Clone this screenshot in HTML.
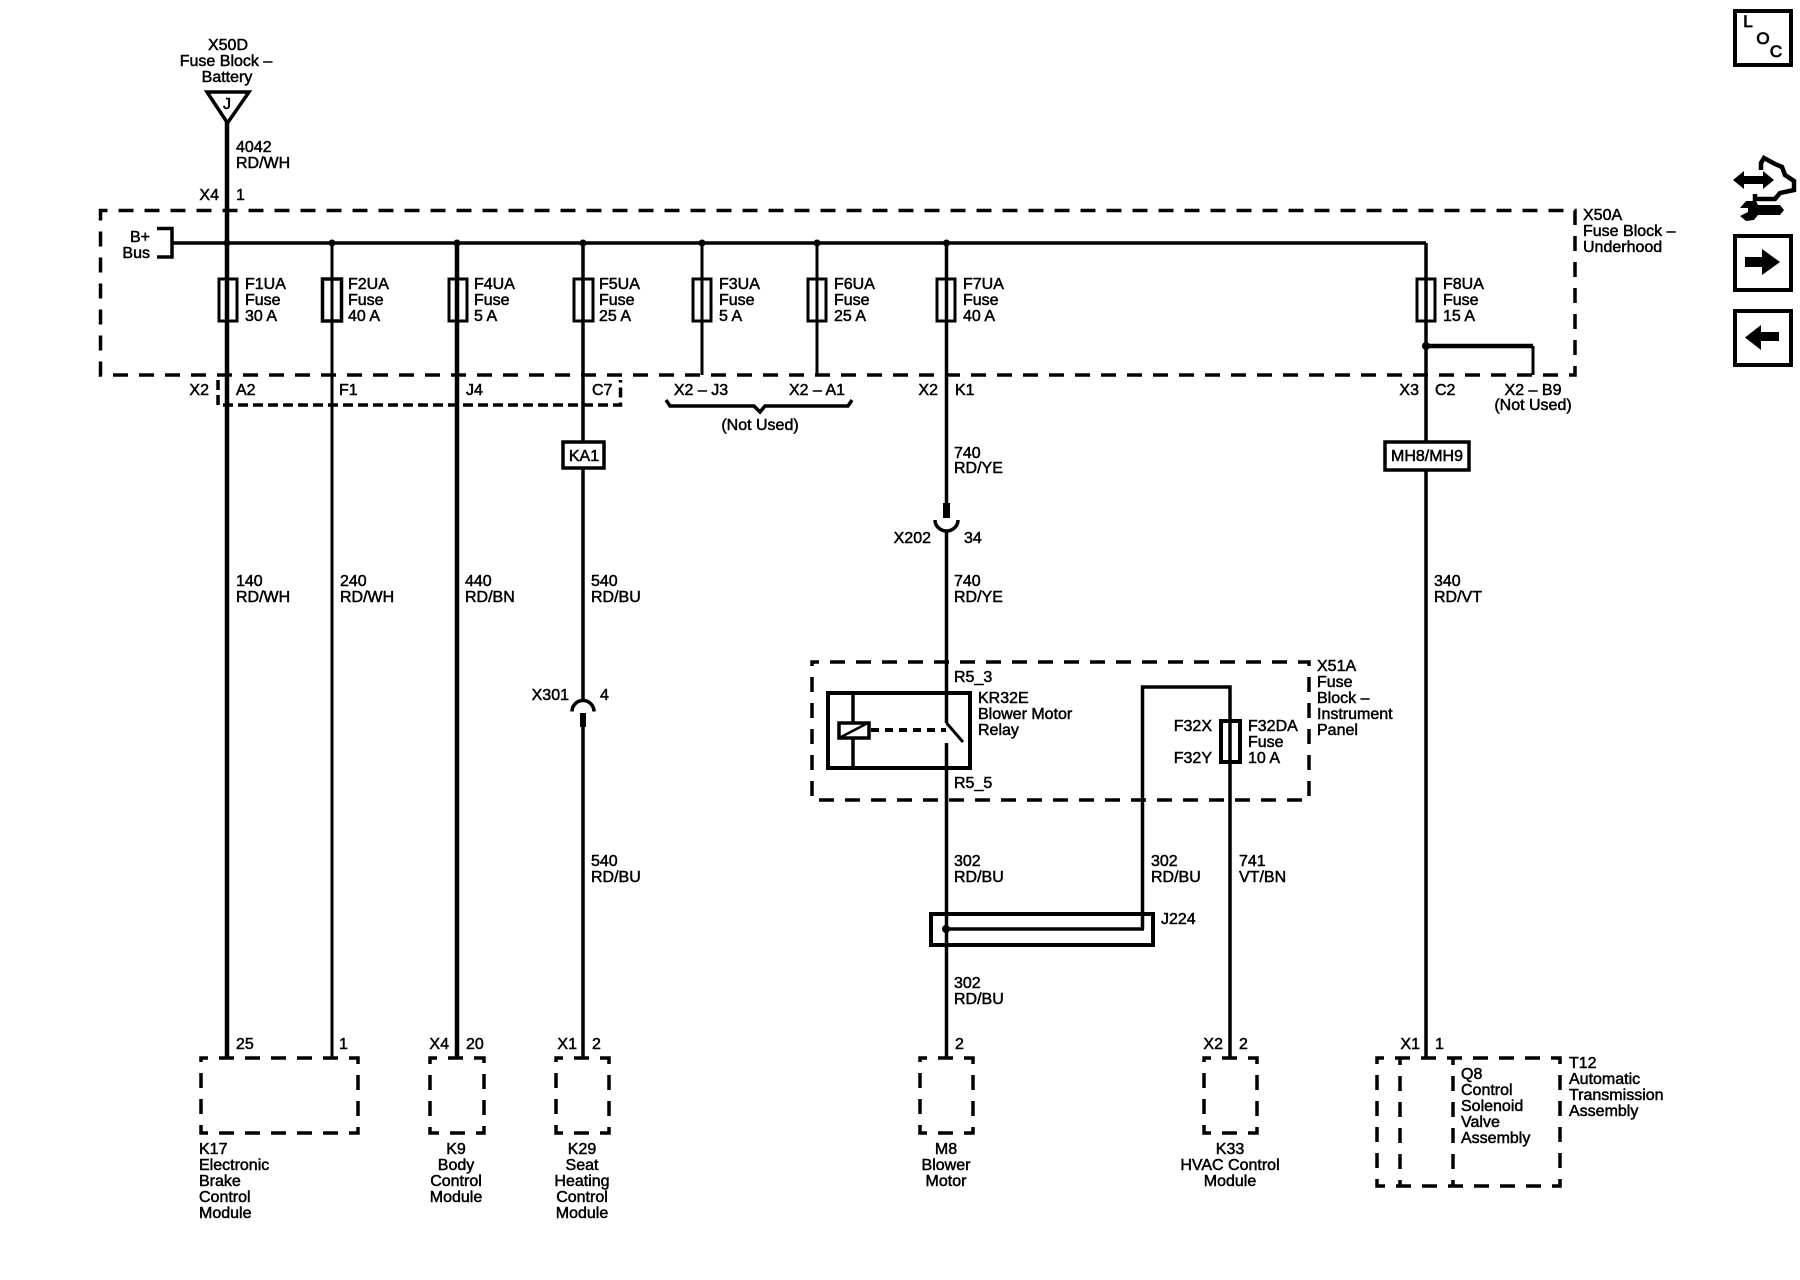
<!DOCTYPE html>
<html>
<head>
<meta charset="utf-8">
<style>
html,body{margin:0;padding:0;background:#fff;}
svg{display:block;}
text{font-family:"Liberation Sans",sans-serif;font-size:16px;fill:#000;stroke:#000;stroke-width:.5px;}
.m{text-anchor:middle;}
.e{text-anchor:end;}
</style>
</head>
<body>
<svg width="1800" height="1280" viewBox="0 0 1800 1280" xmlns="http://www.w3.org/2000/svg">
<rect width="1800" height="1280" fill="#fff" stroke="none"/>
<g fill="none" stroke="#000" stroke-linecap="butt">
<!-- dashed boxes -->
<g stroke-width="3.5" stroke-dasharray="15 11" stroke-dashoffset="8">
<rect x="100.5" y="210.5" width="1474.5" height="164.5"/>
<rect x="812" y="662" width="497" height="138"/>
<rect x="201" y="1058" width="157" height="75"/>
<rect x="430" y="1058" width="54" height="75"/>
<rect x="556" y="1058" width="53" height="75"/>
<rect x="920" y="1058" width="53" height="75"/>
<rect x="1204" y="1058" width="53" height="75"/>
<rect x="1377" y="1058" width="183" height="128"/>
<path d="M1400 1058V1186M1453 1058V1186"/>
</g>
<path d="M218 380V405H620.5V380" stroke-width="3.5" stroke-dasharray="10 5"/>
<!-- bus -->
<path d="M157 228.5H172V257H157" stroke-width="3.5"/>
<path d="M172 243H1426" stroke-width="3.5"/>
<!-- wires -->
<path d="M227 122V1058" stroke-width="4.5"/>
<path d="M332 243V1058" stroke-width="3"/>
<path d="M457 243V1058" stroke-width="4.5"/>
<path d="M583 243V700" stroke-width="3.5"/>
<path d="M583 727V1058" stroke-width="3.5"/>
<path d="M702 243V375" stroke-width="3"/>
<path d="M817 243V375" stroke-width="3"/>
<path d="M946.5 243V503M946.5 531V723M946.5 743V1058" stroke-width="3.5"/>
<path d="M1426 243V1058" stroke-width="3.5"/>
<path d="M1426 346H1533" stroke-width="4.5"/>
<path d="M1533 346V375" stroke-width="3"/>
<!-- fuses -->
<g stroke-width="3">
<rect x="219" y="279" width="18" height="42"/>
<rect x="449" y="279" width="18" height="42"/>
<rect x="574" y="279" width="19" height="42"/>
<rect x="693" y="279" width="18" height="42"/>
<rect x="808" y="279" width="18" height="42"/>
<rect x="937" y="279" width="18" height="42"/>
<rect x="1417" y="279" width="18" height="42"/>
</g>
<rect x="322.5" y="279" width="19" height="42" stroke-width="3.5"/>
<rect x="1221" y="721" width="19" height="41" stroke-width="4"/>
<!-- triangle -->
<path d="M207 92H249L227.5 123Z" stroke-width="3.5" stroke-linejoin="miter"/>
<!-- KA1 / MH8 boxes -->
<rect x="563" y="442" width="41" height="26" fill="#fff" stroke-width="3.5"/>
<rect x="1385" y="442" width="84" height="28" fill="#fff" stroke-width="3.5"/>
<!-- brace -->
<path d="M666 400L670 406H754L760 412L765 406H848L852 400" stroke-width="3.5"/>
<!-- X202 -->
<path d="M935 520A11.5 11 0 0 0 958 520" stroke-width="3.5"/>
<path d="M946.5 503V518" stroke-width="7"/>
<!-- X301 -->
<path d="M572 711.5A11 11 0 0 1 594 711.5" stroke-width="3.5"/>
<path d="M583 713V727" stroke-width="6"/>
<!-- relay -->
<rect x="828" y="693" width="142" height="75" stroke-width="4"/>
<path d="M853 693V722M853 738V768" stroke-width="3.5"/>
<rect x="839" y="723" width="30" height="15" fill="#fff" stroke-width="3.5"/>
<path d="M841 737L866 724" stroke-width="2.5"/>
<path d="M871 730H946" stroke-width="4" stroke-dasharray="8 6"/>
<path d="M946.5 723L963 742" stroke-width="3"/>
<!-- F32 wire -->
<path d="M1142.5 929V687H1230V1058" stroke-width="3.5"/>
<!-- J224 -->
<rect x="931" y="914" width="222" height="31" stroke-width="4"/>
<path d="M946 929H1144" stroke-width="3.5"/>
<!-- LOC and nav boxes -->
<rect x="1735" y="11" width="56" height="54" stroke-width="4"/>
<rect x="1735" y="236" width="56" height="54" stroke-width="4"/>
<rect x="1735" y="311" width="56" height="54" stroke-width="4"/>
<!-- car outline icon -->
<path d="M1761 170V163L1764 158L1775 164L1782 167L1785 175L1794 181L1794 190L1780 193L1775 199H1755V194" stroke-width="4.5"/>
</g>
<g fill="#000" stroke="none">
<circle cx="227" cy="243" r="3.5"/>
<circle cx="332" cy="243" r="3.5"/>
<circle cx="457" cy="243" r="3.5"/>
<circle cx="583" cy="243" r="3.5"/>
<circle cx="702" cy="243" r="3.5"/>
<circle cx="817" cy="243" r="3.5"/>
<circle cx="946.5" cy="243" r="3.5"/>
<circle cx="1426" cy="346" r="4"/>
<circle cx="946" cy="929" r="4"/>
<path d="M1745 257H1762V249L1780 262L1762 275V267H1745Z"/>
<path d="M1779 332H1761V325L1745 337.5L1761 350V341H1779Z"/>
<path d="M1733 180L1744 171V176H1763V171L1774 180L1763 189V184H1744V189Z"/>
<path d="M1740 208L1746 201L1756 201L1758 205L1780 205L1784 210L1780 215L1758 215L1754 220L1746 221L1740 216L1748 212L1748 208Z"/>
</g>
<text x="1748" y="27" class="m" style="font-size:17px;stroke-width:.8px">L</text>
<text x="1763" y="44" class="m" style="font-size:17px;stroke-width:.8px">O</text>
<text x="1776" y="57" class="m" style="font-size:17px;stroke-width:.8px">C</text>

<!-- top labels -->
<text x="228" y="50" class="m">X50D</text>
<text x="226" y="66" class="m">Fuse Block –</text>
<text x="227" y="82" class="m">Battery</text>
<text x="227" y="109" class="m">J</text>
<text x="236" y="152">4042</text>
<text x="236" y="168">RD/WH</text>
<text x="219" y="200" class="e">X4</text>
<text x="236" y="200">1</text>
<text x="150" y="242" class="e">B+</text>
<text x="150" y="258" class="e">Bus</text>

<!-- fuse labels -->
<text x="245" y="289">F1UA</text><text x="245" y="305">Fuse</text><text x="245" y="321">30 A</text>
<text x="348" y="289">F2UA</text><text x="348" y="305">Fuse</text><text x="348" y="321">40 A</text>
<text x="474" y="289">F4UA</text><text x="474" y="305">Fuse</text><text x="474" y="321">5 A</text>
<text x="599" y="289">F5UA</text><text x="599" y="305">Fuse</text><text x="599" y="321">25 A</text>
<text x="719" y="289">F3UA</text><text x="719" y="305">Fuse</text><text x="719" y="321">5 A</text>
<text x="834" y="289">F6UA</text><text x="834" y="305">Fuse</text><text x="834" y="321">25 A</text>
<text x="963" y="289">F7UA</text><text x="963" y="305">Fuse</text><text x="963" y="321">40 A</text>
<text x="1443" y="289">F8UA</text><text x="1443" y="305">Fuse</text><text x="1443" y="321">15 A</text>

<text x="1583" y="220">X50A</text>
<text x="1583" y="236">Fuse Block –</text>
<text x="1583" y="252">Underhood</text>

<!-- connector row -->
<text x="209" y="395" class="e">X2</text>
<text x="236" y="395">A2</text>
<text x="339" y="395">F1</text>
<text x="466" y="395">J4</text>
<text x="592" y="395">C7</text>
<text x="701" y="395" class="m">X2 – J3</text>
<text x="817" y="395" class="m">X2 – A1</text>
<text x="938" y="395" class="e">X2</text>
<text x="955" y="395">K1</text>
<text x="1419" y="395" class="e">X3</text>
<text x="1435" y="395">C2</text>
<text x="1533" y="395" class="m">X2 – B9</text>
<text x="1533" y="410" class="m">(Not Used)</text>
<text x="760" y="430" class="m">(Not Used)</text>
<text x="584" y="461" class="m">KA1</text>
<text x="1427" y="461" class="m">MH8/MH9</text>

<!-- wire labels -->
<text x="954" y="458">740</text><text x="954" y="473">RD/YE</text>
<text x="931" y="543" class="e">X202</text><text x="964" y="543">34</text>
<text x="236" y="586">140</text><text x="236" y="602">RD/WH</text>
<text x="340" y="586">240</text><text x="340" y="602">RD/WH</text>
<text x="465" y="586">440</text><text x="465" y="602">RD/BN</text>
<text x="591" y="586">540</text><text x="591" y="602">RD/BU</text>
<text x="954" y="586">740</text><text x="954" y="602">RD/YE</text>
<text x="1434" y="586">340</text><text x="1434" y="602">RD/VT</text>
<text x="569" y="700" class="e">X301</text><text x="600" y="700">4</text>
<text x="591" y="866">540</text><text x="591" y="882">RD/BU</text>

<!-- X51A -->
<text x="954" y="682">R5_3</text>
<text x="954" y="788">R5_5</text>
<text x="978" y="703">KR32E</text>
<text x="978" y="719">Blower Motor</text>
<text x="978" y="735">Relay</text>
<text x="1212" y="731" class="e">F32X</text>
<text x="1212" y="763" class="e">F32Y</text>
<text x="1248" y="731">F32DA</text>
<text x="1248" y="747">Fuse</text>
<text x="1248" y="763">10 A</text>
<text x="1317" y="671">X51A</text>
<text x="1317" y="687">Fuse</text>
<text x="1317" y="703">Block –</text>
<text x="1317" y="719">Instrument</text>
<text x="1317" y="735">Panel</text>

<text x="954" y="866">302</text><text x="954" y="882">RD/BU</text>
<text x="1151" y="866">302</text><text x="1151" y="882">RD/BU</text>
<text x="1239" y="866">741</text><text x="1239" y="882">VT/BN</text>
<text x="1161" y="924">J224</text>
<text x="954" y="988">302</text><text x="954" y="1004">RD/BU</text>

<!-- pins -->
<text x="236" y="1049">25</text>
<text x="339" y="1049">1</text>
<text x="449" y="1049" class="e">X4</text><text x="466" y="1049">20</text>
<text x="577" y="1049" class="e">X1</text><text x="592" y="1049">2</text>
<text x="955" y="1049">2</text>
<text x="1223" y="1049" class="e">X2</text><text x="1239" y="1049">2</text>
<text x="1420" y="1049" class="e">X1</text><text x="1435" y="1049">1</text>

<!-- module labels -->
<text x="199" y="1154">K17</text>
<text x="199" y="1170">Electronic</text>
<text x="199" y="1186">Brake</text>
<text x="199" y="1202">Control</text>
<text x="199" y="1218">Module</text>
<text x="456" y="1154" class="m">K9</text>
<text x="456" y="1170" class="m">Body</text>
<text x="456" y="1186" class="m">Control</text>
<text x="456" y="1202" class="m">Module</text>
<text x="582" y="1154" class="m">K29</text>
<text x="582" y="1170" class="m">Seat</text>
<text x="582" y="1186" class="m">Heating</text>
<text x="582" y="1202" class="m">Control</text>
<text x="582" y="1218" class="m">Module</text>
<text x="946" y="1154" class="m">M8</text>
<text x="946" y="1170" class="m">Blower</text>
<text x="946" y="1186" class="m">Motor</text>
<text x="1230" y="1154" class="m">K33</text>
<text x="1230" y="1170" class="m">HVAC Control</text>
<text x="1230" y="1186" class="m">Module</text>
<text x="1461" y="1079">Q8</text>
<text x="1461" y="1095">Control</text>
<text x="1461" y="1111">Solenoid</text>
<text x="1461" y="1127">Valve</text>
<text x="1461" y="1143">Assembly</text>
<text x="1569" y="1068">T12</text>
<text x="1569" y="1084">Automatic</text>
<text x="1569" y="1100">Transmission</text>
<text x="1569" y="1116">Assembly</text>
</svg>
</body>
</html>
